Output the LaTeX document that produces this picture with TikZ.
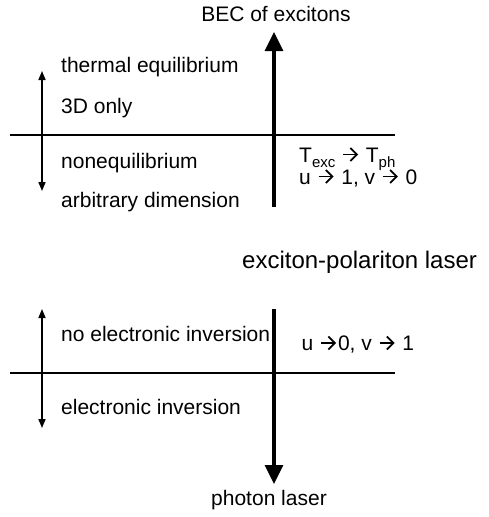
\documentclass[tikz,border=0pt]{standalone}
\usepackage{fontspec}
\setmainfont{Liberation Sans}
\usetikzlibrary{arrows.meta}
\newcommand{\sbs}[1]{\raisebox{-5pt}{\fontsize{15}{15}\selectfont #1}}
\newsavebox{\arrbox}
\sbox{\arrbox}{\tikz[baseline=0pt]{\draw[line width=1.8pt, -{Straight Barb[length=6.5pt,width=13pt,line width=1.8pt]}] (0pt,7.5pt) -- (15pt,7.5pt);}}
\newcommand{\rarr}{\hspace{1pt}\usebox{\arrbox}\hspace{1pt}}
\begin{document}
\begin{tikzpicture}[x=1pt,y=-1pt,
  lbl/.style={anchor=base west, inner sep=0pt, font=\fontsize{21}{25}\selectfont},
  ttl/.style={anchor=base, inner sep=0pt, font=\fontsize{21}{25}\selectfont},
  axisline/.style={line width=2pt},
  bigarrow/.style={line width=3.2pt, -{Triangle[width=18pt,length=19pt]}},
  dblarrow/.style={line width=1.6pt, {Triangle[width=7pt,length=9pt]}-{Triangle[width=7pt,length=9pt]}}]
\useasboundingbox (0,0) rectangle (489,517);

% top panel
\coordinate (h1l) at (10,135);
\coordinate (h1r) at (395,135);
\draw[axisline] (h1l) -- (h1r);
\coordinate (v1b) at (274,207);
\coordinate (v1t) at (274,32);
\draw[bigarrow] (v1b) -- (v1t);
\coordinate (d1t) at (42,71);
\coordinate (d1b) at (42,191);
\draw[dblarrow] (d1b) -- (d1t);

\node[ttl] (bec) at (276,21.5) {BEC of excitons};
\node[lbl] (therm) at (61,72) {thermal equilibrium};
\node[lbl] (only3d) at (61,113) {3D only};
\node[lbl] (noneq) at (61,168) {nonequilibrium};
\node[lbl] (arbdim) at (61,207) {arbitrary dimension};
\node[lbl] (texc) at (299,162) {T\sbs{exc} \rarr{} T\sbs{ph}};
\node[lbl] (uv1) at (299,184) {u \rarr{} 1, v \rarr{} 0};

\node[anchor=base west, inner sep=0pt, font=\fontsize{24}{28}\selectfont] (epl) at (242,268) {exciton-polariton laser};

% bottom panel
\coordinate (h2l) at (10,373);
\coordinate (h2r) at (395,373);
\draw[axisline] (h2l) -- (h2r);
\coordinate (v2t) at (274,309);
\coordinate (v2b) at (274,484);
\draw[bigarrow] (v2t) -- (v2b);
\coordinate (d2t) at (42,309);
\coordinate (d2b) at (42,428);
\draw[dblarrow] (d2b) -- (d2t);

\node[lbl] (noinv) at (61,341.5) {no electronic inversion};
\node[lbl] (uv2) at (301.5,350.5) {u \rarr{}0, v \rarr{} 1};
\node[lbl] (inv) at (61,414) {electronic inversion};
\node[ttl] (phl) at (269,505) {photon laser};
\end{tikzpicture}
\end{document}
